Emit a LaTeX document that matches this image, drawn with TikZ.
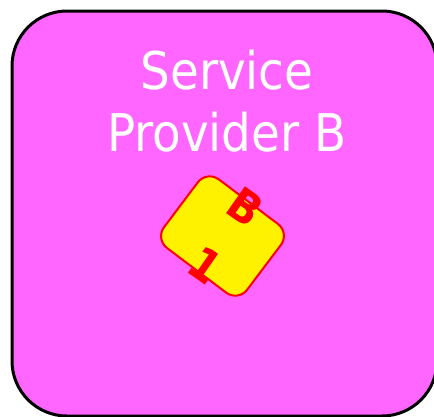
\documentclass[tikz,border=0pt]{standalone}
\usepackage{fontspec}
\usepackage{xcolor}
\usepackage{tikz}
\usetikzlibrary{positioning}
\newfontfamily\providerfont{DejaVu Sans Condensed}
\definecolor{providerpink}{HTML}{FF66FF}

\begin{document}
\begin{tikzpicture}[x=1pt, y=-1pt,
			provider/.style={draw=black, line width=3pt, fill=providerpink, rounded corners=55pt, minimum width=425pt, minimum height=405pt, inner sep=0pt},
			title/.style={text=white, align=center, font=\providerfont\fontsize{52}{62}\selectfont},
			token/.style={draw=red, line width=2pt, fill=yellow, rounded corners=15pt, minimum width=104pt, minimum height=86pt, inner sep=0pt, rotate=-37},
			tokentext/.style={text=red, align=center, font=\providerfont\bfseries\fontsize{45}{70}\selectfont, rotate=-35}]
			
			\useasboundingbox (0,0) rectangle (434,416);
			
			\node[provider] (sp) at (224.5,213.5) {};
			\node[title, anchor=base] (name) at (227,151) {Service\\Provider B};
			
			\node[token] (b1) at (222.5,236) {};
			\node[tokentext] (b1text) at ([xshift=3pt]b1.center) {B\\1};
			
		\end{tikzpicture}
\end{document}
